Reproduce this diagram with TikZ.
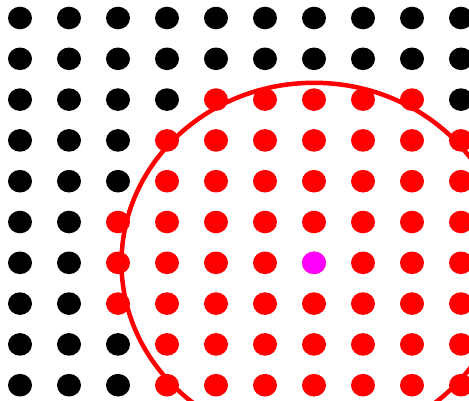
\documentclass[tikz,border=0pt]{standalone}
\definecolor{hotpink}{RGB}{255,0,255}
\begin{document}
\begin{tikzpicture}[x=1pt,y=-1pt]
      % Frame
      \useasboundingbox (0,0) rectangle (469,400);

      % Lattice of points, red inside the radius
      \foreach \i in {0,...,9}{
        \foreach \j in {0,...,9}{
          \pgfmathtruncatemacro{\inside}{(\i-6)^2+0.6933*(\j-6)^2<17}
          \ifnum\inside=1 \def\dotcol{red}\else\def\dotcol{black}\fi
          \fill[\dotcol] ({20+49*\i},{18+40.8*\j}) ellipse [x radius=12, y radius=11.3];
        }
      }

      % Query point
      \fill[hotpink] (314,262.8) ellipse [x radius=12, y radius=11.3];

      % Search radius
      \draw[red, line width=4.5pt] (314,262.8) ellipse [x radius=192.5, y radius=180];
\end{tikzpicture}
\end{document}
